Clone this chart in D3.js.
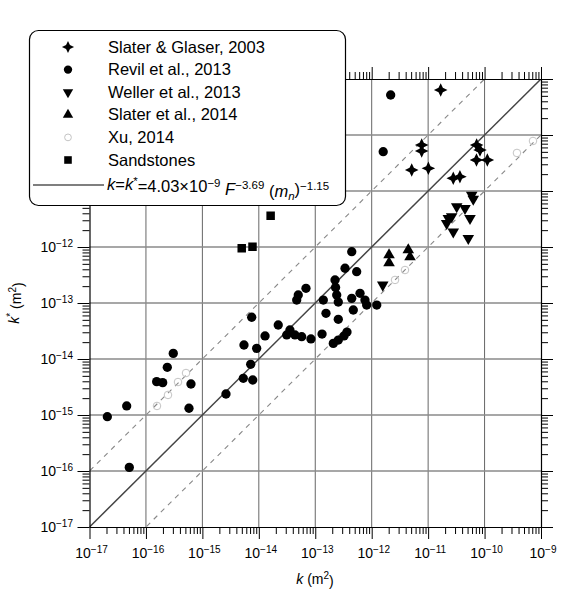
<!DOCTYPE html>
<html>
<head>
<meta charset="utf-8">
<script src="https://cdn.jsdelivr.net/npm/d3@7"></script>
<style>
  html, body { margin: 0; padding: 0; background: #fff; }
  svg { display: block; font-family: "Liberation Sans", Arial, sans-serif; }
</style>
</head>
<body>
<svg id="chart" width="576" height="590"></svg>
<script>
// Measured permeability k versus predicted permeability k* (both in m²)
const slaterGlaserK     = [1.67e-11, 7.69e-12, 7.69e-12, 5.12e-12, 1.01e-11, 7.24e-11, 8.30e-11, 7.19e-11, 1.12e-10, 2.79e-11, 3.66e-11];
const slaterGlaserKStar = [6.37e-10, 6.62e-11, 5.18e-11, 2.37e-11, 2.54e-11, 6.62e-11, 5.40e-11, 3.58e-11, 3.58e-11, 1.69e-11, 1.80e-11];

const revilK     = [3.05e-16, 2.39e-16, 1.55e-16, 1.98e-16, 6.28e-16, 5.79e-16, 4.56e-17, 2.07e-17, 5.07e-17, 2.62e-15,
                    5.31e-15, 7.80e-15, 7.18e-15, 5.46e-15, 9.16e-15, 7.48e-15, 1.29e-14, 2.21e-14, 3.56e-14, 4.37e-14,
                    3.12e-14, 5.75e-14, 8.39e-14, 1.32e-13, 2.09e-13, 2.56e-13, 3.23e-13, 3.65e-13, 5.00e-14, 4.69e-14,
                    6.85e-14, 1.39e-13, 1.55e-13, 2.56e-13, 2.24e-13, 2.29e-13, 2.40e-13, 2.56e-13, 3.37e-13, 5.42e-13,
                    4.43e-13, 4.43e-13, 4.72e-13, 6.21e-13, 7.60e-13, 8.15e-13, 1.23e-12, 2.17e-12, 1.60e-12];
const revilKStar = [1.26e-14, 7.11e-15, 3.94e-15, 3.78e-15, 3.58e-15, 1.32e-15, 1.45e-15, 9.33e-16, 1.16e-16, 2.37e-15,
                    4.52e-15, 4.22e-15, 8.04e-15, 1.78e-14, 1.55e-14, 5.56e-14, 2.58e-14, 4.05e-14, 3.30e-14, 2.69e-14,
                    2.69e-14, 2.50e-14, 2.28e-14, 2.79e-14, 1.90e-14, 2.18e-14, 2.58e-14, 3.03e-14, 1.39e-13, 1.13e-13,
                    1.83e-13, 1.13e-13, 6.55e-14, 5.12e-14, 2.58e-13, 1.89e-13, 1.39e-13, 1.04e-13, 4.17e-13, 3.62e-13,
                    8.24e-13, 1.21e-13, 7.50e-14, 1.49e-13, 1.13e-13, 9.20e-14, 9.20e-14, 5.18e-10, 5.03e-11];

const wellerK     = [5.92e-11, 6.31e-11, 3.21e-11, 4.50e-11, 2.28e-11, 2.61e-11, 2.13e-11, 5.52e-11, 2.79e-11, 5.15e-11, 1.57e-12];
const wellerKStar = [8.49e-12, 7.19e-12, 5.25e-12, 4.91e-12, 3.26e-12, 3.48e-12, 2.65e-12, 3.26e-12, 1.87e-12, 1.43e-12, 2.10e-13];

const slater2014K     = [2.03e-12, 2.03e-12, 4.45e-12, 4.78e-12];
const slater2014KStar = [7.19e-13, 5.18e-13, 8.83e-13, 6.62e-13];

const xuK     = [5.13e-16, 3.70e-16, 1.57e-16, 2.46e-16, 7.21e-10, 3.75e-10, 3.89e-12, 2.59e-12];
const xuKStar = [5.62e-15, 3.88e-15, 1.45e-15, 2.28e-15, 7.82e-11, 4.78e-11, 3.88e-13, 2.58e-13];

const sandstoneK     = [4.98e-15, 7.73e-15, 1.62e-14];
const sandstoneKStar = [9.48e-13, 1.01e-12, 3.62e-12];

// Axis decades (powers of ten) and the k*/k ratios of the reference lines
const decadeExponents = [-17, -16, -15, -14, -13, -12, -11, -10, -9];
const referenceRatios = [1, 10, 0.1];

const legendLabels = ["Slater & Glaser, 2003", "Revil et al., 2013", "Weller et al., 2013",
                      "Slater et al., 2014", "Xu, 2014", "Sandstones"];

// ---------------------------------------------------------------------------
const svg = d3.select("#chart");
const plotLeft = 89.5, plotRight = 541, plotTop = 79, plotBottom = 527;

const x = d3.scaleLog().domain([1e-17, 1e-9]).range([plotLeft, plotRight]);
const y = d3.scaleLog().domain([1e-17, 1e-9]).range([plotBottom, plotTop]);

const majors = decadeExponents.map(e => Math.pow(10, e));
const minors = [];
decadeExponents.slice(0, -1).forEach(e => {
  d3.range(2, 10).forEach(m => minors.push(m * Math.pow(10, e)));
});

// grid
const grid = svg.append("g");
grid.selectAll("line.v").data(majors.slice(1, -1)).join("line")
  .attr("x1", d => x(d)).attr("x2", d => x(d))
  .attr("y1", plotTop).attr("y2", plotBottom)
  .attr("stroke", "#666").attr("stroke-width", 1);
grid.selectAll("line.h").data(majors.slice(1, -1)).join("line")
  .attr("y1", d => y(d)).attr("y2", d => y(d))
  .attr("x1", plotLeft).attr("x2", plotRight)
  .attr("stroke", "#8a8a8a").attr("stroke-width", 1.4);

// reference lines k* = r·k
svg.append("clipPath").attr("id", "plotClip")
  .append("rect").attr("x", plotLeft).attr("y", plotTop)
  .attr("width", plotRight - plotLeft).attr("height", plotBottom - plotTop);

const kSpan = [1e-18, 1e-8];
const refLine = r => d3.line().x(d => x(d)).y(d => y(d * r))(kSpan);
svg.append("g").attr("clip-path", "url(#plotClip)")
  .selectAll("path").data(referenceRatios).join("path")
  .attr("d", r => refLine(r))
  .attr("fill", "none")
  .attr("stroke", r => r === 1 ? "#444" : "#888")
  .attr("stroke-width", r => r === 1 ? 1.5 : 1.1)
  .attr("stroke-dasharray", r => r === 1 ? null : "5,5");

// axes: major and minor ticks on all four sides
function addAxis(axisFn, scale, transform) {
  svg.append("g").attr("transform", transform)
    .call(axisFn(scale).tickValues(majors).tickFormat("").tickSizeInner(12).tickSizeOuter(0))
    .call(g => g.select(".domain").attr("stroke", "#000").attr("stroke-width", 1.2));
  svg.append("g").attr("transform", transform)
    .call(axisFn(scale).tickValues(minors).tickFormat("").tickSizeInner(7).tickSizeOuter(0))
    .call(g => g.select(".domain").remove());
}
addAxis(d3.axisBottom, x, `translate(0,${plotBottom})`);
addAxis(d3.axisTop, x, `translate(0,${plotTop})`);
addAxis(d3.axisLeft, y, `translate(${plotLeft},0)`);
addAxis(d3.axisRight, y, `translate(${plotRight},0)`);

// tick labels 10^e
function powerLabel(sel) {
  sel.append("tspan").text("10");
  sel.append("tspan").attr("dy", "-0.5em").attr("font-size", "10px")
    .text(e => "\u2212" + Math.abs(e));
}
svg.append("g").selectAll("text").data(decadeExponents).join("text")
  .attr("x", e => x(Math.pow(10, e)) + 2)
  .attr("y", 558)
  .attr("text-anchor", "middle")
  .attr("font-size", "14px")
  .call(powerLabel);
svg.append("g").selectAll("text").data(decadeExponents).join("text")
  .attr("x", 73)
  .attr("y", e => y(Math.pow(10, e)) + 5)
  .attr("text-anchor", "end")
  .attr("font-size", "14px")
  .call(powerLabel);

// axis titles
const xt = svg.append("text").attr("x", 315).attr("y", 584)
  .attr("text-anchor", "middle").attr("font-size", "14px");
xt.append("tspan").attr("font-style", "italic").text("k");
xt.append("tspan").text(" (m");
xt.append("tspan").attr("dy", "-0.5em").attr("font-size", "10px").text("2");
xt.append("tspan").attr("dy", "0.5em").text(")");

const yt = svg.append("text")
  .attr("transform", "translate(19,303) rotate(-90)")
  .attr("text-anchor", "middle").attr("font-size", "14px");
yt.append("tspan").attr("font-style", "italic").text("k");
yt.append("tspan").attr("dy", "-0.5em").attr("font-size", "10px").text("*");
yt.append("tspan").attr("dy", "0.5em").text(" (m");
yt.append("tspan").attr("dy", "-0.5em").attr("font-size", "10px").text("2");
yt.append("tspan").attr("dy", "0.5em").text(")");

// marker shapes
const star4 = {
  draw(ctx, size) {
    const r = Math.sqrt(size) * 0.8, ri = r * 0.45;
    for (let i = 0; i < 8; i++) {
      const a = i * Math.PI / 4 - Math.PI / 2;
      const rr = i % 2 ? ri : r;
      const px = Math.cos(a) * rr, py = Math.sin(a) * rr;
      if (i) ctx.lineTo(px, py); else ctx.moveTo(px, py);
    }
    ctx.closePath();
  }
};

const series = [
  { k: slaterGlaserK, ks: slaterGlaserKStar, type: star4, size: 72, rot: 0, fill: "#000", stroke: "none" },
  { k: revilK, ks: revilKStar, type: d3.symbolCircle, size: 68, rot: 0, fill: "#000", stroke: "none" },
  { k: wellerK, ks: wellerKStar, type: d3.symbolTriangle, size: 58, rot: 180, fill: "#000", stroke: "none" },
  { k: slater2014K, ks: slater2014KStar, type: d3.symbolTriangle, size: 58, rot: 0, fill: "#000", stroke: "none" },
  { k: xuK, ks: xuKStar, type: d3.symbolCircle, size: 45, rot: 0, fill: "none", stroke: "#c4c4c4" },
  { k: sandstoneK, ks: sandstoneKStar, type: d3.symbolSquare, size: 72, rot: 0, fill: "#000", stroke: "none" }
];

const pts = svg.append("g").attr("clip-path", "url(#plotClip)");
[4, 1, 5, 0, 2, 3].forEach(i => {
  const s = series[i];
  const sym = d3.symbol().type(s.type).size(s.size);
  pts.append("g").selectAll("path").data(d3.range(s.k.length)).join("path")
    .attr("transform", j => `translate(${x(s.k[j])},${y(s.ks[j])}) rotate(${s.rot})`)
    .attr("d", sym)
    .attr("fill", s.fill)
    .attr("stroke", s.stroke)
    .attr("stroke-width", 1);
});

// legend
const lg = svg.append("g");
lg.append("rect").attr("x", 29.5).attr("y", 30.5).attr("width", 316).attr("height", 175)
  .attr("rx", 9).attr("fill", "#fff").attr("stroke", "#000").attr("stroke-width", 1.2);

const rowY = d3.range(legendLabels.length).map(i => 47 + i * 22.6);
lg.selectAll("path").data(series).join("path")
  .attr("transform", (s, i) => `translate(68,${rowY[i]}) rotate(${s.rot})`)
  .attr("d", s => d3.symbol().type(s.type).size(s.size * 0.8)())
  .attr("fill", s => s.fill)
  .attr("stroke", s => s.stroke);
lg.selectAll("text.lab").data(legendLabels).join("text")
  .attr("x", 108).attr("y", (d, i) => rowY[i] + 5.5)
  .attr("font-size", "16.5px")
  .text(d => d);

lg.append("line").attr("x1", 33).attr("x2", 104).attr("y1", 185).attr("y2", 185)
  .attr("stroke", "#000").attr("stroke-width", 1.2);
const ft = lg.append("text").attr("x", 107).attr("y", 190).attr("font-size", "16.5px");
ft.append("tspan").attr("font-style", "italic").text("k");
ft.append("tspan").text("=");
ft.append("tspan").attr("font-style", "italic").text("k");
ft.append("tspan").attr("dy", "-0.45em").attr("font-size", "11.5px").text("*");
ft.append("tspan").attr("dy", "0.45em").text("=4.03\u00d710");
ft.append("tspan").attr("dy", "-0.45em").attr("font-size", "11.5px").text("\u22129");
ft.append("tspan").attr("dy", "0.45em").text(" ");
ft.append("tspan").attr("font-style", "italic").text("F");
ft.append("tspan").attr("dy", "-0.45em").attr("font-size", "11.5px").text("\u22123.69");
ft.append("tspan").attr("dy", "0.45em").text(" (");
ft.append("tspan").attr("font-style", "italic").text("m");
ft.append("tspan").attr("dy", "0.3em").attr("font-size", "11.5px").attr("font-style", "italic").text("n");
ft.append("tspan").attr("dy", "-0.3em").text(")");
ft.append("tspan").attr("dy", "-0.45em").attr("font-size", "11.5px").text("\u22121.15");
</script>
</body>
</html>
